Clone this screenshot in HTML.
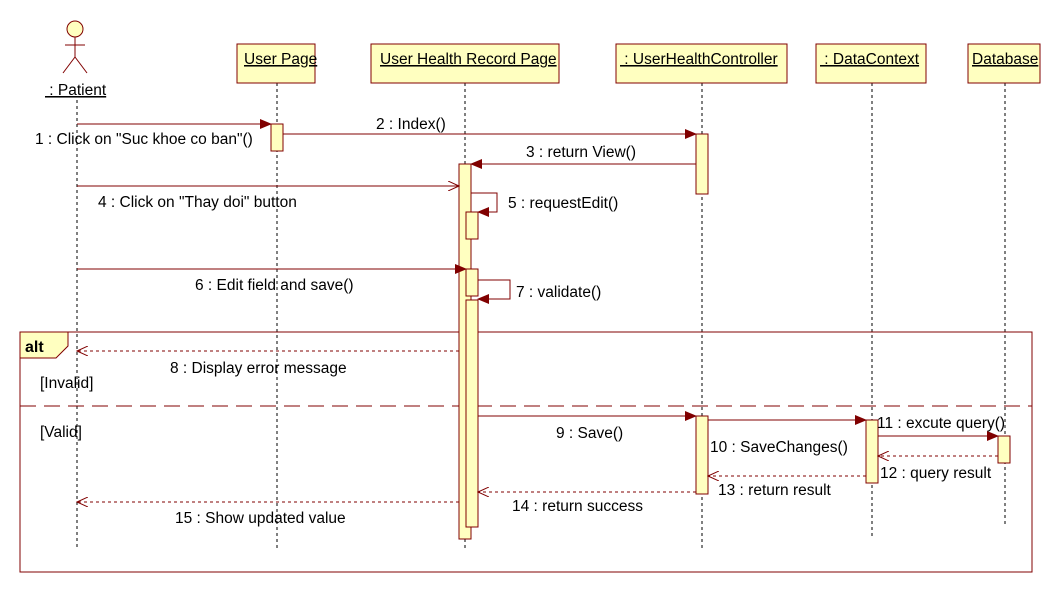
<!DOCTYPE html>
<html><head><meta charset="utf-8"><style>
html,body{margin:0;padding:0;background:#fff;}
svg{display:block;}
text{font-family:"Liberation Sans","DejaVu Sans",sans-serif;font-size:15.5px;fill:#000;}
</style></head><body>
<svg width="1061" height="592" viewBox="0 0 1061 592" xmlns="http://www.w3.org/2000/svg">
<defs>
<marker id="f" markerWidth="12" markerHeight="10" refX="11" refY="5" orient="auto" markerUnits="userSpaceOnUse"><path d="M0,0 L12,5 L0,10 z" fill="#800000"/></marker>
<marker id="o" markerWidth="12" markerHeight="10" refX="11" refY="5" orient="auto" markerUnits="userSpaceOnUse"><path d="M0,0 L11,5 L0,10" fill="none" stroke="#800000"/></marker>
</defs>
<g stroke="#000" stroke-dasharray="3,3" stroke-width="1">
<line x1="77" y1="100" x2="77" y2="548"/>
<line x1="277" y1="83" x2="277" y2="548"/>
<line x1="465" y1="83" x2="465" y2="548"/>
<line x1="702" y1="83" x2="702" y2="548"/>
<line x1="872" y1="83" x2="872" y2="537"/>
<line x1="1005" y1="83" x2="1005" y2="525"/>
</g>
<g stroke="#800000" fill="none">
<circle cx="75" cy="29" r="8" fill="#ffffc0"/>
<line x1="75" y1="37" x2="75" y2="57"/>
<line x1="65" y1="45" x2="85" y2="45"/>
<line x1="75" y1="57" x2="63" y2="73"/>
<line x1="75" y1="57" x2="87" y2="73"/>
</g>
<text x="45" y="95" text-decoration="underline">&#160;: Patient</text>
<g fill="#ffffc0" stroke="#800000">
<rect x="237" y="44" width="78" height="39"/>
<rect x="371" y="44" width="188" height="39"/>
<rect x="616" y="44" width="171" height="39"/>
<rect x="816" y="44" width="110" height="39"/>
<rect x="968" y="44" width="72" height="39"/>
</g>
<text x="244" y="64" text-decoration="underline">User Page</text>
<text x="380" y="64" text-decoration="underline">User Health Record Page</text>
<text x="620" y="64" text-decoration="underline">&#160;: UserHealthController</text>
<text x="820" y="64" text-decoration="underline">&#160;: DataContext</text>
<text x="972" y="64" text-decoration="underline">Database</text>
<rect x="20" y="332" width="1012" height="240" fill="none" stroke="#800000"/>
<path d="M20,332 L68,332 L68,346 L56,358 L20,358 z" fill="#ffffc0" stroke="#800000"/>
<text x="25" y="352" style="font-weight:bold;font-size:16px">alt</text>
<line x1="20" y1="406" x2="1032" y2="406" stroke="#800000" stroke-dasharray="16,8"/>
<text x="40" y="388">[Invalid]</text>
<text x="40" y="437">[Valid]</text>
<g fill="#ffffc0" stroke="#800000">
<rect x="271" y="124" width="12" height="27"/>
<rect x="696" y="134" width="12" height="60"/>
<rect x="459" y="164" width="12" height="375"/>
<rect x="466" y="212" width="12" height="27"/>
<rect x="466" y="269" width="12" height="27"/>
<rect x="466" y="300" width="12" height="227"/>
<rect x="696" y="416" width="12" height="78"/>
<rect x="866" y="420" width="12" height="63"/>
<rect x="998" y="436" width="12" height="27"/>
</g>
<g stroke="#800000" fill="none">
<line x1="77" y1="124" x2="271" y2="124" marker-end="url(#f)"/>
<line x1="283" y1="134" x2="696" y2="134" marker-end="url(#f)"/>
<line x1="696" y1="164" x2="471" y2="164" marker-end="url(#f)"/>
<line x1="77" y1="186" x2="459" y2="186" marker-end="url(#o)"/>
<polyline points="471,193 497,193 497,212 478,212" marker-end="url(#f)"/>
<line x1="77" y1="269" x2="466" y2="269" marker-end="url(#f)"/>
<polyline points="478,280 510,280 510,299 478,299" marker-end="url(#f)"/>
<line x1="459" y1="351" x2="77" y2="351" stroke-dasharray="3,3" marker-end="url(#o)"/>
<line x1="478" y1="416" x2="696" y2="416" marker-end="url(#f)"/>
<line x1="708" y1="420" x2="866" y2="420" marker-end="url(#f)"/>
<line x1="878" y1="436" x2="998" y2="436" marker-end="url(#f)"/>
<line x1="998" y1="456" x2="878" y2="456" stroke-dasharray="3,3" marker-end="url(#o)"/>
<line x1="866" y1="476" x2="708" y2="476" stroke-dasharray="3,3" marker-end="url(#o)"/>
<line x1="696" y1="492" x2="478" y2="492" stroke-dasharray="3,3" marker-end="url(#o)"/>
<line x1="459" y1="502" x2="77" y2="502" stroke-dasharray="3,3" marker-end="url(#o)"/>
</g>
<text x="35" y="144">1 : Click on "Suc khoe co ban"()</text>
<text x="376" y="129">2 : Index()</text>
<text x="526" y="157">3 : return View()</text>
<text x="98" y="207">4 : Click on "Thay doi" button</text>
<text x="508" y="208">5 : requestEdit()</text>
<text x="195" y="290">6 : Edit field and save()</text>
<text x="516" y="297">7 : validate()</text>
<text x="170" y="373">8 : Display error message</text>
<text x="556" y="438">9 : Save()</text>
<text x="710" y="452">10 : SaveChanges()</text>
<text x="877" y="428">11 : excute query()</text>
<text x="880" y="478">12 : query result</text>
<text x="718" y="495">13 : return result</text>
<text x="512" y="511">14 : return success</text>
<text x="175" y="523">15 : Show updated value</text>
</svg>
</body></html>
